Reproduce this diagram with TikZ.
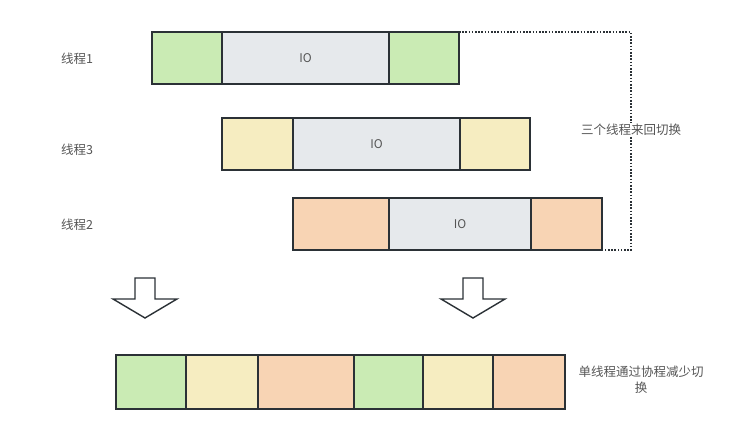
\documentclass[tikz,border=0pt]{standalone}
\usepackage{fontspec}
\setmainfont{Noto Sans CJK SC}
\usetikzlibrary{positioning}

\definecolor{edge}{HTML}{2B3136}
\definecolor{txt}{HTML}{555555}
\definecolor{green}{HTML}{CAEBB4}
\definecolor{iogray}{HTML}{E6E9EC}
\definecolor{yellow}{HTML}{F6EDC1}
\definecolor{orange}{HTML}{F8D4B4}

\tikzset{
  blk/.style={draw=edge, line width=1.6pt, minimum height=52pt, inner sep=0pt, outer sep=0pt, font=\fontsize{12}{15}\selectfont, text=txt},
  lbl/.style={font=\fontsize{12.5}{16}\selectfont, text=txt, inner sep=1pt},
  hollow/.style={draw=edge, line width=1.4pt, fill=white, line join=miter}
}

\begin{document}
\begin{tikzpicture}[x=1pt, y=-1pt]
  \useasboundingbox (0,0) rectangle (731,433);

  % Fila del hilo 1
  \node[blk, fill=green, minimum width=70pt, anchor=north west] (t1a) at (152,32) {};
  \node[blk, fill=iogray, minimum width=167pt, right=0pt of t1a] (t1b) {IO};
  \node[blk, fill=green, minimum width=70pt, right=0pt of t1b] (t1c) {};
  \node[lbl] (l1) at (77,59) {线程1};

  % Fila del hilo 3
  \node[blk, fill=yellow, minimum width=71pt, anchor=north west] (t3a) at (222,118) {};
  \node[blk, fill=iogray, minimum width=167pt, right=0pt of t3a] (t3b) {IO};
  \node[blk, fill=yellow, minimum width=70pt, right=0pt of t3b] (t3c) {};
  \node[lbl] (l3) at (77,150) {线程3};

  % Fila del hilo 2
  \node[blk, fill=orange, minimum width=96pt, anchor=north west] (t2a) at (293,198) {};
  \node[blk, fill=iogray, minimum width=142pt, right=0pt of t2a] (t2b) {IO};
  \node[blk, fill=orange, minimum width=71pt, right=0pt of t2b] (t2c) {};
  \node[lbl] (l2) at (77,225) {线程2};

  % Corchete punteado con el texto
  \node[lbl, fill=white] (sw) at (631,130) {三个线程来回切换};
  \draw[edge, line width=1.4pt, dash pattern=on 1.6pt off 1.6pt] (t1c.north east) -| (sw.north);
  \draw[edge, line width=1.4pt, dash pattern=on 1.6pt off 1.6pt] (sw.south) |- (t2c.south east);

  % Flechas huecas hacia abajo
  \foreach \cx in {145,473} {
    \draw[hollow] (\cx-10,278) -- (\cx+10,278) -- (\cx+10,299) -- (\cx+32,299)
      -- (\cx,318) -- (\cx-32,299) -- (\cx-10,299) -- cycle;
  }

  % Fila de un solo hilo con corrutinas
  \node[blk, fill=green, minimum height=54pt, minimum width=70pt, anchor=north west] (b1) at (116,355) {};
  \node[blk, fill=yellow, minimum height=54pt, minimum width=72pt, right=0pt of b1] (b2) {};
  \node[blk, fill=orange, minimum height=54pt, minimum width=96pt, right=0pt of b2] (b3) {};
  \node[blk, fill=green, minimum height=54pt, minimum width=69pt, right=0pt of b3] (b4) {};
  \node[blk, fill=yellow, minimum height=54pt, minimum width=70pt, right=0pt of b4] (b5) {};
  \node[blk, fill=orange, minimum height=54pt, minimum width=72pt, right=0pt of b5] (b6) {};
  \node[lbl, align=center] (lb) at (641,380) {单线程通过协程减少切\\换};
\end{tikzpicture}
\end{document}
